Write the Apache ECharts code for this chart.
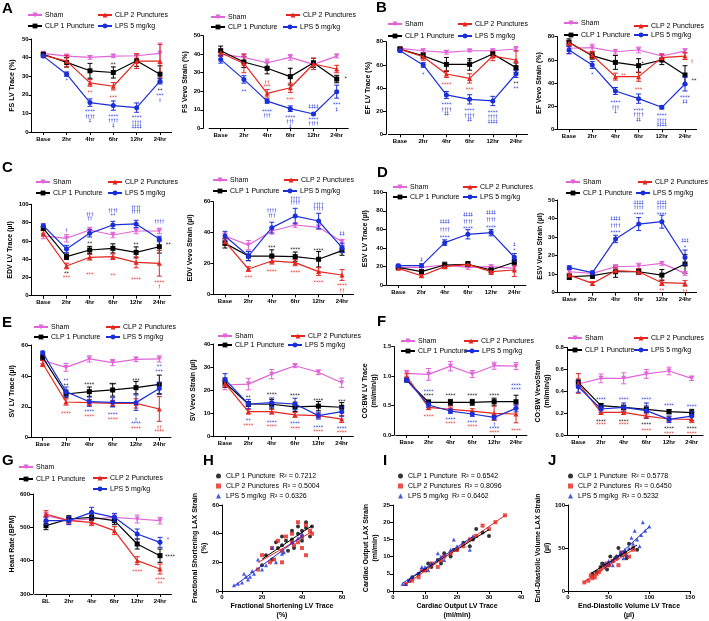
<!DOCTYPE html>
<html><head><meta charset="utf-8">
<script src="https://cdn.jsdelivr.net/npm/echarts/dist/echarts.min.js"></script>
<style>html,body{margin:0;padding:0;background:#fff}#c{width:709px;height:621px}</style>
</head><body><div id="c"></div>
<script>
// ---------- categories & groups ----------
const TIME = ['Base','2hr','4hr','6hr','12hr','24hr'];
const HR_TIME = ['BL','2hr','4hr','6hr','12hr','24hr'];
const GROUPS = ['Sham','CLP 1 Puncture','CLP 2 Punctures','LPS 5 mg/kg'];

// ---------- A: FS LV Trace ----------
const fsLvMean = [[42.3,40.8,40.1,40.8,41.0,42.3],[41.8,37.4,32.9,32.0,38.3,31.1],[41.2,38.1,26.4,24.6,38.1,38.1],[40.8,31.1,15.8,14.2,13.1,27.3]];
const fsLvSem  = [[0.8,0.8,1.0,0.8,0.8,5.5],[0.8,2.5,4.0,3.0,3.0,4.5],[0.8,3.0,1.8,2.0,4.0,9.0],[0.8,1.2,2.0,2.5,2.5,1.5]];
const fsLvMarks = [[1,28.6,'*',3],[2,22.1,'**',2],[2,12,'****\n††††\n‡',3],[3,37.4,'**',1],[3,19.8,'***',2],[3,9.7,'****\n††††\n‡',3],[4,8.8,'****\n††††\n‡‡‡‡',3],[5,23.2,'**',1],[5,20.5,'***\n†',3]];
// A: FS Vevo Strain
const fsVsMean = [[40.1,38.3,35.4,38.3,34.5,39.0],[41.9,35.8,32.4,27.9,35.4,26.6],[40.8,35.0,18.9,21.9,34.7,32.0],[37.2,26.4,14.7,10.6,7.7,19.8]];
const fsVsSem  = [[1.2,2,2,1.5,1,1],[2.5,3,3,4.5,2.5,2],[2,5,2,2.5,3,2],[2,2,1.2,1.5,0.5,3.5]];
const fsVsMarks = [[1,21.2,'**',3],[2,25.9,'††\n***',2],[2,10.3,'****\n†††',3],[3,32.6,'*',1],[3,16.7,'***',2],[3,7,'****\n†††\n‡',3],[4,12.8,'‡‡‡‡',3],[4,6.1,'****\n††††',3],[5,28,'*',1,9],[5,13.8,'***\n‡',3]];
// B: EF LV Trace
const efLvMean = [[74.2,72.2,70.8,72.2,72.2,73.7],[73.7,67.9,60.4,60.4,69.4,57.6],[73.4,67.0,52.1,48.3,67.6,64.2],[72.2,59.9,34.0,30.2,28.8,52.1]];
const efLvSem  = [[1,1.5,1.5,1,1.5,2],[1,2.5,6,5,3,4],[1,3,3,4,4,8],[1,2,3,4,4,3]];
const efLvMarks = [[1,53,'*',3],[2,44.9,'****',2],[2,27.3,'****\n††††\n‡‡',3],[3,65,'**',1],[3,40.6,'***',2],[3,22.2,'****\n††††\n‡‡',3],[4,20.7,'****\n††††\n‡‡‡‡',3],[5,45.8,'**',1],[5,41.7,'**',3]];
// B: EF Vevo Strain
const efVsMean = [[70,70.5,67,68.5,63.3,67.6],[75.1,63.6,57.8,55,59.9,46.9],[74.8,64.2,45.5,45.5,61.9,63.3],[68.5,55.5,33.1,26.5,19,39.1]];
const efVsSem  = [[5,3,2,2.5,2,2],[3,3,6,6,4,8],[2,3,3,4,3,3],[3,3,3,4,1.5,6]];
const efVsMarks = [[1,49.2,'*',3],[2,48.6,'**',2,8],[2,24.5,'****\n†††\n‡',3],[3,58.7,'*',1,4],[3,36.3,'***',2],[3,18.4,'****\n††††\n‡‡',3],[4,13.5,'****\n††††\n‡‡‡‡',3],[5,43.5,'**',1,9],[5,60.7,'†',2,7],[5,29.4,'****\n‡‡',3]];
// C: EDV LV Trace
const edvLvMean = [[65.3,62.8,71.9,66.4,70.8,70.8],[73.7,42.7,50.0,51.8,47.4,53.6],[68.2,32.5,42.0,42.7,36.5,35.4],[76.6,51.1,68.2,77.4,78.5,62.0]];
const edvLvSem  = [[3,4,3,3,3,3],[2,3,4,5,6,7],[3,3,3,3,6,14],[2,4,4,4,4,3]];
const edvLvMarks = [[1,73.4,'†',3],[1,26.6,'**',1],[1,21.9,'***',2],[2,91.6,'†††\n††',3],[2,59.5,'**',1],[2,25.2,'***',2],[3,95.3,'††††\n**',3],[3,24.1,'**',2],[4,98.9,'††††\n††††',3],[4,58.8,'**',1],[4,20.4,'****',2],[5,83.6,'††††',3],[5,58,'**',1,9],[5,16.8,'****\n†',2]];
// C: EDV Vevo Strain
const edvVsMean = [[37.8,31.9,41.0,44.9,43.4,34.1],[33.0,24.8,24.8,24.4,22.7,28.3],[34.1,16.4,21.6,20.5,14.7,12.5],[37.8,24.8,43.2,50.7,47.5,30.2]];
const edvVsSem  = [[2,3,2,1.5,1.5,1.5],[3,3,4,3,5,3],[2,1.5,2,2,2.5,3.5],[3,3,3.5,5,5,3]];
const edvVsMarks = [[1,12.3,'***',2],[2,55.5,'††††\n†††',3],[2,31.5,'***',1],[2,16.4,'****',2],[3,63.7,'††††\n††††',3],[3,30.4,'****',1],[3,15.3,'****',2],[4,59.8,'††††\n††††',3],[4,29.8,'****',1],[4,8.8,'****',2],[5,40.4,'‡‡',3],[5,6.9,'****\n††',2]];
// D: ESV LV Trace
const esvLvMean = [[19,19,21.6,19,19.8,18],[19,14.4,21.6,22.3,16.2,24.5],[18,10,19.8,22.3,14.4,16.2],[20.9,20.9,45.7,54.7,56.5,29.9]];
const esvLvSem  = [[1.5,2,2,2,2,2.5],[1.5,2,3,3,3,3],[1.5,1.5,2,2,3,7],[1.5,2,3,5,3.5,4]];
const esvLvMarks = [[1,30.2,'‡',3],[2,70.9,'‡‡‡‡',3],[2,62.2,'††††',3],[2,53.2,'****',3],[3,78.4,'‡‡‡‡',3],[3,71.2,'††††',3],[3,62.9,'****',3],[4,80.2,'‡‡‡‡',3],[4,72.7,'††††',3],[4,64.7,'****',3],[5,46,'‡',3],[5,39.2,'*',3]];
// D: ESV Vevo Strain
const esvVsMean = [[11.3,10.4,14.0,14.4,15.8,10.4],[8.6,9.2,11.3,11.3,9.5,15.5],[9.5,5.0,11.9,11.3,5.4,5.0],[13.5,10.8,29.0,37.0,38.3,19.0]];
const esvVsSem  = [[1.5,1,1,1.5,1,1],[1.5,1.5,3,1.5,3,5],[1,1,1.5,1.5,1.5,1.5],[1,1,2,3.5,3.5,4]];
const esvVsMarks = [[2,41,'‡‡‡‡',3],[2,37.4,'††††',3],[2,33.8,'****',3],[3,50,'‡‡‡‡',3],[3,46.8,'††††',3],[3,43.2,'****',3],[4,50,'‡‡‡‡',3],[4,46.8,'††††',3],[4,43.4,'****',3],[5,29.3,'‡‡‡',3],[5,25.5,'*',3],[4,2.2,'**',2],[5,1.8,'††',2]];
// E: SV LV Trace
const svLvMean = [[50,45.5,51,48.6,50.7,51],[52,28.3,29.8,30.9,32.4,34.5],[48,23.1,22.7,22.2,22.2,18.6],[55,29.8,23.3,22.9,22.7,31.9]];
const svLvSem  = [[2,2.5,2,2,1.5,2],[2,2.5,3,4,4,6],[2,2,2,2,3,8],[1,3,3,3,5,4]];
const svLvMarks = [[1,38.2,'**',3],[1,35.4,'**',1],[1,17,'****',2],[2,36,'****',1],[2,18.1,'****',3],[2,15.1,'****',2],[3,36,'***',1],[3,16.6,'****',3],[3,13.4,'****',2],[4,38.6,'***',1],[4,13.4,'†\n****',3],[4,7.3,'****',2],[5,47.3,'**\n***',3],[5,8,'††\n****',2]];
// E: SV Vevo Strain
const svVsMean = [[22.3,22.7,27.0,30.6,27.8,23.3],[23.3,14.1,14.0,12.9,13.2,12.7],[23.0,10.8,10.8,9.4,9.1,7.6],[24.7,14.1,14.7,14.1,9.1,10.8]];
const svVsSem  = [[2,2.5,2,0.8,1,2],[2,1,2,2,2,2],[1.5,1,1,1,1,1.5],[2.5,2,2,2.5,1.5,2]];
const svVsMarks = [[1,17.6,'**',1],[1,7.8,'**',3],[1,5.9,'****',2],[2,19,'****',1],[2,7,'****',3],[2,5.2,'****',2],[3,18.6,'****',1],[3,6.6,'****',3],[3,4.6,'****',2],[4,16.7,'****',1],[4,4.9,'****',3],[4,3,'****',2],[5,16,'***',1],[5,4.6,'****',3],[5,2.7,'****',2]];
// F: CO:BW LV Trace
const coLvMean = [[1.047,1.03,1.17,1.036,1.177,1.17],[0.934,0.555,0.555,0.555,0.566,0.566],[0.99,0.47,0.436,0.407,0.368,0.357],[0.934,0.51,0.407,0.357,0.3,0.453]];
const coLvSem  = [[0.05,0.1,0.08,0.06,0.06,0.06],[0.03,0.04,0.05,0.05,0.06,0.11],[0.05,0.04,0.04,0.04,0.12,0.15],[0.03,0.04,0.04,0.04,0.04,0.06]];
const coLvMarks = [[1,0.77,'****',3],[1,0.70,'****',1],[1,0.35,'****',2],[2,0.713,'****',1],[2,0.306,'****',3],[2,0.238,'****',2],[3,0.713,'****',1],[3,0.249,'****',3],[3,0.175,'****',2],[4,0.713,'****',1],[4,0.22,'†\n****',3],[4,0.079,'****',2],[5,0.883,'****',3],[5,0.815,'****',3],[5,0.108,'****',2]];
// F: CO:BW Vevo Strain
const coVsMean = [[0.465,0.517,0.517,0.557,0.584,0.517],[0.48,0.268,0.252,0.234,0.213,0.204],[0.47,0.207,0.207,0.173,0.146,0.143],[0.44,0.237,0.252,0.222,0.143,0.173]];
const coVsSem  = [[0.02,0.04,0.05,0.04,0.035,0.02],[0.03,0.02,0.02,0.03,0.02,0.03],[0.09,0.02,0.02,0.02,0.02,0.03],[0.05,0.03,0.04,0.07,0.03,0.04]];
const coVsMarks = [[1,0.338,'****',3],[2,0.338,'****',3],[3,0.338,'****',3],[4,0.292,'****',3],[5,0.28,'****',3],[1,0.14,'****',1],[1,0.11,'****',2],[2,0.14,'****',1],[2,0.11,'****',2],[3,0.11,'****',1],[3,0.064,'****',2],[4,0.079,'****',1],[4,0.036,'****',2],[5,0.079,'****',1],[5,0.036,'****',2]];
// G: Heart rate
const hrMean = [[535,520,525,530,525,520],[505,525,530,520,450,415],[540,520,515,490,400,375],[520,520,545,530,480,455]];
const hrSem  = [[10,10,10,10,12,10],[12,10,10,12,15,20],[10,10,10,12,12,15],[12,12,15,12,15,15]];
const hrMarks = [[4,375,'****',2],[5,350,'****\n**',2],[5,420,'****',1,10],[5,470,'*',3,8]];

// ---------- H, I, J scatter (x = LV trace, y = LAX strain) ----------
const fsClp1Pts = [[40,42],[42,44],[38,40],[44,38],[35,36],[30,32],[28,30],[32,35],[36,30],[40,35],[45,45],[25,22],[22,25],[33,28],[38,45],[42,48],[30,38],[27,34],[20,18],[35,42]];
const fsClp2Pts = [[40,38],[42,46],[35,40],[30,28],[26,22],[24,20],[38,34],[44,42],[36,32],[28,35],[20,25],[45,40],[32,38],[18,15],[25,30],[40,30],[42,25],[38,48],[30,20],[35,34]];
const fsLpsPts  = [[40,40],[38,37],[30,26],[15,14],[14,10],[13,8],[27,20],[16,12],[12,10],[31,27],[40,38],[10,6],[8,5],[20,15],[35,34],[18,22],[6,4],[25,30],[22,18],[11,12]];
const coClp1Pts = [[20,12],[22,14],[18,10],[25,15],[15,8],[12,7],[10,6],[28,17],[16,11],[8,5],[6,4],[24,13],[19,12],[14,9],[30,16],[5,3],[11,8],[26,18]];
const coClp2Pts = [[22,13],[18,11],[26,16],[15,9],[10,6],[8,4],[6,3],[30,18],[35,22],[12,8],[20,12],[24,15],[28,19],[16,10],[4,2],[9,6],[32,20],[14,7]];
const coLpsPts  = [[20,13],[18,12],[15,10],[10,7],[8,5],[6,4],[5,3],[12,8],[22,14],[25,16],[4,2],[9,7],[16,9],[14,11],[24,12],[3,2],[11,6],[19,15]];
const edvClp1Pts = [[60,40],[70,45],[55,35],[80,50],[45,30],[40,28],[35,22],[65,42],[75,55],[50,30],[30,20],[85,48],[58,38],[48,25],[72,38],[62,50],[42,32],[52,40]];
const edvClp2Pts = [[60,38],[50,30],[40,25],[35,20],[30,15],[25,12],[70,42],[65,45],[45,28],[55,35],[20,10],[75,40],[38,22],[48,32],[28,18],[62,30],[80,48],[33,16]];
const edvLpsPts  = [[80,55],[90,65],[75,50],[70,48],[85,60],[95,70],[60,40],[65,45],[50,35],[100,75],[55,30],[78,62],[88,52],[72,42],[45,32],[92,80],[68,38],[82,70]];
const fsR2  = ['0.7212','0.5004','0.6326'];
const coR2  = ['0.6542','0.8096','0.6462'];
const edvR2 = ['0.5778','0.6450','0.5232'];

// ---------- styles & layout (not data) ----------
const COLORS = ['#e264d8','#000000','#e5261f','#1b2fd9'];
const SYMBOLS = ['path://M0,0L10,0L5,9Z','rect','triangle','circle'];
const SC_SYMBOLS = ['circle','rect','triangle'];
const FONT = '"Liberation Sans", Arial, sans-serif';

const LINE_PLOTS = [
 {mean:fsLvMean, sem:fsLvSem, marks:fsLvMarks, cats:TIME, name:'FS LV Trace (%)', min:0, max:50, interval:10, axisX:31.7, x0:43.3, x5:160, yTop:39, yBot:132, nameX:12, leg:[[27,16],[27,27],[97,16],[97,27]]},
 {mean:fsVsMean, sem:fsVsSem, marks:fsVsMarks, cats:TIME, name:'FS Vevo Strain (%)', min:0, max:50, interval:10, axisX:203.3, x0:220.7, x5:336.7, yTop:35.7, yBot:128.3, nameX:193, leg:[[210,18],[210,28],[285,16],[282,28]]},
 {mean:efLvMean, sem:efLvSem, marks:efLvMarks, cats:TIME, name:'EF LV Trace (%)', min:0, max:80, interval:20, axisX:386, x0:400, x5:516, yTop:41.7, yBot:134.3, nameX:368, leg:[[387,25],[387,37],[457,25],[457,37]]},
 {mean:efVsMean, sem:efVsSem, marks:efVsMarks, cats:TIME, name:'EF Vevo Strain (%)', min:0, max:80, interval:20, axisX:559, x0:569, x5:685, yTop:36.7, yBot:129.3, nameX:540, leg:[[563,24],[563,36],[633,27],[633,36]]},
 {mean:edvLvMean, sem:edvLvSem, marks:edvLvMarks, cats:TIME, name:'EDV LV Trace (µl)', min:0, max:100, interval:20, axisX:31.7, x0:43.3, x5:159.3, yTop:204.3, yBot:295.7, nameX:12, leg:[[35,183],[35,194],[107,183],[107,194]]},
 {mean:edvVsMean, sem:edvVsSem, marks:edvVsMarks, cats:TIME, name:'EDV Vevo Strain (µl)', min:0, max:60, interval:20, axisX:214.3, x0:225, x5:342, yTop:201.7, yBot:294.3, nameX:190, leg:[[212,181],[212,192],[283,181],[282,192]]},
 {mean:esvLvMean, sem:esvLvSem, marks:esvLvMarks, cats:TIME, name:'ESV LV Trace (µl)', min:0, max:100, interval:20, axisX:386, x0:398.3, x5:514.3, yTop:192.3, yBot:285, nameX:368, leg:[[392,188],[392,198],[462,188],[462,198]]},
 {mean:esvVsMean, sem:esvVsSem, marks:esvVsMarks, cats:TIME, name:'ESV Vevo Strain (µl)', min:0, max:50, interval:10, axisX:559.3, x0:569.3, x5:685, yTop:200, yBot:292.7, nameX:540, leg:[[565,183],[565,194],[637,183],[635,194]]},
 {mean:svLvMean, sem:svLvSem, marks:svLvMarks, cats:TIME, name:'SV LV Trace (µl)', min:0, max:60, interval:20, axisX:31, x0:42.7, x5:159.3, yTop:345, yBot:437.7, nameX:12, leg:[[33,328],[33,338],[105,328],[105,338]]},
 {mean:svVsMean, sem:svVsSem, marks:svVsMarks, cats:TIME, name:'SV Vevo Strain (µl)', min:0, max:40, interval:10, axisX:214.3, x0:225, x5:341.7, yTop:344, yBot:436.7, nameX:193, leg:[[217,337],[217,346],[290,337],[287,346]]},
 {mean:coLvMean, sem:coLvSem, marks:coLvMarks, cats:TIME, name:'CO:BW LV Trace\n(ml/min/g)', min:0, max:1.5, interval:0.5, axisX:394.3, x0:406.7, x5:516, yTop:346.7, yBot:435, nameX:373, dec:1, leg:[[400,342],[400,352],[463,342],[464,352]]},
 {mean:coVsMean, sem:coVsSem, marks:coVsMarks, cats:TIME, name:'CO:BW VevoStrain\n(ml/min/g)', min:0, max:0.8, interval:0.2, axisX:568.3, x0:578.3, x5:691.7, yTop:347.3, yBot:435, nameX:548, dec:1, leg:[[567,339],[567,351],[633,339],[633,351]]},
 {mean:hrMean, sem:hrSem, marks:hrMarks, cats:HR_TIME, name:'Heart Rate (BPM)', min:300, max:600, interval:100, axisX:33, x0:46, x5:160, yTop:494, yBot:594, nameX:12, leg:[[18,468],[18,480],[92,479],[92,490]]}
];

const SCATTER_PLOTS = [
 {pts:[fsClp1Pts,fsClp2Pts,fsLpsPts], r2:fsR2, xName:'Fractional Shortening LV Trace\n(%)', yName:'Fractional Shortening LAX Strain\n(%)', xMax:60, xInt:20, yMax:60, yInt:20, left:222, top:505, width:120, height:87, nameX:209, leg:[[216,477],[216,487],[216,497]]},
 {pts:[coClp1Pts,coClp2Pts,coLpsPts], r2:coR2, xName:'Cardiac Output LV Trace\n(ml/min)', yName:'Cardiac Output LAX Strain\n(ml/min)', xMax:40, xInt:10, yMax:25, yInt:5, left:393, top:505, width:128, height:87, nameX:377, leg:[[398,477],[398,487],[398,497]]},
 {pts:[edvClp1Pts,edvClp2Pts,edvLpsPts], r2:edvR2, xName:'End-Diastolic Volume LV Trace\n(µl)', yName:'End-Diastolic Volume LAX Strain\n(µl)', xMax:150, xInt:50, yMax:100, yInt:50, left:568, top:505, width:122, height:87, nameX:550, leg:[[568,477],[568,487],[568,497]]}
];

const LETTERS = [['A',2,1],['B',376,0],['C',2,160],['D',377,165],['E',2,315],['F',377,314],['G',2,453],['H',203,453],['I',383,453],['J',548,453]];

// ---------- build option ----------
const option = {animation:false, backgroundColor:'#fff', grid:[], xAxis:[], yAxis:[], series:[], legend:[], title:[]};
const axisCommon = {
  axisLine:{show:true, lineStyle:{color:'#000', width:1}},
  axisTick:{show:true, length:3, lineStyle:{color:'#000', width:1}},
  splitLine:{show:false}
};
const tickLabel = {fontSize:6, fontWeight:'bold', color:'#000', fontFamily:FONT};
const nameStyle = {fontSize:7, fontWeight:'bold', color:'#000', fontFamily:FONT, lineHeight:9};

function addLegend(name, x, y, opts) {
  option.legend.push(Object.assign({data:[name], left:x, top:y-4.5, padding:0, itemWidth:14, itemHeight:6, itemGap:0,
    selectedMode:false, textStyle:{fontSize:7, color:'#000', fontFamily:FONT, padding:[0,0,0,-2]}}, opts || {}));
}

LINE_PLOTS.forEach((p, pi) => {
  const d = (p.x5 - p.x0) / 5;
  const left = p.x0 - d / 2;
  const offset = Math.max(0, left - p.axisX);
  const axisPos = offset > 0 ? p.axisX : left;
  const nLines = p.name.split('\n').length;
  option.grid.push({left:left, top:p.yTop, width:6 * d, height:p.yBot - p.yTop});
  option.xAxis.push(Object.assign({}, axisCommon, {type:'category', gridIndex:pi, data:p.cats, boundaryGap:true,
    axisTick:{show:true, alignWithLabel:true, length:3, lineStyle:{color:'#000'}},
    axisLabel:Object.assign({interval:0, margin:4}, tickLabel)}));
  option.yAxis.push(Object.assign({}, axisCommon, {type:'value', gridIndex:pi, min:p.min, max:p.max, interval:p.interval, offset:offset,
    axisLabel:Object.assign({margin:3, formatter: p.dec ? (v => v.toFixed(p.dec)) : '{value}'}, tickLabel),
    name:p.name, nameLocation:'middle', nameGap: axisPos - p.nameX - nLines * 9 / 2, nameTextStyle:nameStyle}));
  p.mean.forEach((arr, g) => {
    option.series.push({type:'line', name:GROUPS[g], xAxisIndex:pi, yAxisIndex:pi, data:arr,
      symbol:SYMBOLS[g], symbolSize:5, showSymbol:true,
      lineStyle:{width:1.2, color:COLORS[g]}, itemStyle:{color:COLORS[g]}, z:3 + g});
    const semArr = p.sem[g];
    option.series.push({type:'custom', name:'err' + g, xAxisIndex:pi, yAxisIndex:pi, z:2 + g,
      data: arr.map((m, i) => [i, m - semArr[i], m + semArr[i]]),
      renderItem: (params, api) => {
        const lo = api.coord([api.value(0), api.value(1)]);
        const hi = api.coord([api.value(0), api.value(2)]);
        const st = {stroke:COLORS[g], lineWidth:1};
        return {type:'group', children:[
          {type:'line', shape:{x1:lo[0], y1:lo[1], x2:hi[0], y2:hi[1]}, style:st},
          {type:'line', shape:{x1:lo[0]-2.5, y1:lo[1], x2:lo[0]+2.5, y2:lo[1]}, style:st},
          {type:'line', shape:{x1:hi[0]-2.5, y1:hi[1], x2:hi[0]+2.5, y2:hi[1]}, style:st}
        ]};
      }});
  });
  const marks = p.marks;
  option.series.push({type:'custom', name:'marks', xAxisIndex:pi, yAxisIndex:pi, z:10, clip:false,
    data: marks.map(m => [m[0], m[1]]),
    renderItem: (params, api) => {
      const m = marks[params.dataIndex];
      const pt = api.coord([api.value(0), api.value(1)]);
      return {type:'text', x:pt[0] + (m[4] || 0), y:pt[1], style:{text:m[2], fill:COLORS[m[3]],
        fontSize:5, fontFamily:'"DejaVu Sans", sans-serif', align:'center', verticalAlign:'top', lineHeight:4.5}};
    }});
  p.leg.forEach((pos, g) => addLegend(GROUPS[g], pos[0], pos[1]));
});

function linFit(pts) {
  const n = pts.length;
  let sx = 0, sy = 0, sxx = 0, sxy = 0, mn = Infinity, mx = -Infinity;
  pts.forEach(([x, y]) => { sx += x; sy += y; sxx += x * x; sxy += x * y; mn = Math.min(mn, x); mx = Math.max(mx, x); });
  const b = (n * sxy - sx * sy) / (n * sxx - sx * sx);
  const a = (sy - b * sx) / n;
  return [[mn, a + b * mn], [mx, a + b * mx]];
}

SCATTER_PLOTS.forEach((s, si) => {
  const gi = LINE_PLOTS.length + si;
  option.grid.push({left:s.left, top:s.top, width:s.width, height:s.height});
  option.xAxis.push(Object.assign({}, axisCommon, {type:'value', gridIndex:gi, min:0, max:s.xMax, interval:s.xInt,
    axisLabel:Object.assign({margin:3}, tickLabel), name:s.xName, nameLocation:'middle', nameGap:11, nameTextStyle:nameStyle}));
  option.yAxis.push(Object.assign({}, axisCommon, {type:'value', gridIndex:gi, min:0, max:s.yMax, interval:s.yInt,
    axisLabel:Object.assign({margin:3}, tickLabel), name:s.yName, nameLocation:'middle', nameGap:s.left - s.nameX - 9, nameTextStyle:nameStyle}));
  s.pts.forEach((pts, k) => {
    const g = k + 1;
    const nm = GROUPS[g] + '  R² = ' + s.r2[k];
    option.series.push({type:'scatter', name:nm, xAxisIndex:gi, yAxisIndex:gi, data:pts, symbol:SC_SYMBOLS[k], symbolSize:4,
      itemStyle:{color:COLORS[g]}, z:3});
    option.series.push({type:'line', name:'fit' + si + k, xAxisIndex:gi, yAxisIndex:gi, data:linFit(pts), symbol:'none',
      lineStyle:{color:COLORS[g], width:1}, z:4});
    addLegend(nm, s.leg[k][0], s.leg[k][1], {itemWidth:5, itemHeight:5, icon:SC_SYMBOLS[k],
      textStyle:{fontSize:7, color:'#000', fontFamily:FONT, padding:[0,0,0,0]}});
  });
});

LETTERS.forEach(([t, x, y]) => option.title.push({text:t, left:x, top:y, padding:0,
  textStyle:{fontSize:15, fontWeight:'bold', color:'#000', fontFamily:FONT}}));

const chart = echarts.init(document.getElementById('c'), null, {renderer:'canvas'});
chart.setOption(option);
</script></body></html>
